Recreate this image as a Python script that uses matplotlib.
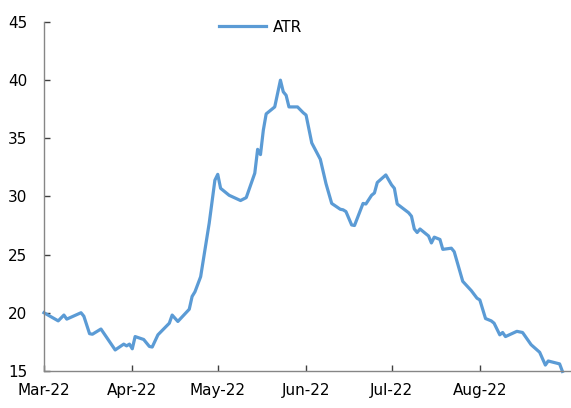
import pandas as pd
import numpy as np
import matplotlib.pyplot as plt
import matplotlib.dates as mdates

plt.rcParams['font.family'] = ['DejaVu Sans']

# ATR readings (date, value)
dates = ['2022-03-01', '2022-03-06', '2022-03-08', '2022-03-09', '2022-03-14', '2022-03-15',
         '2022-03-17', '2022-03-18', '2022-03-21', '2022-03-26', '2022-03-29', '2022-03-30',
         '2022-03-31', '2022-04-01', '2022-04-02', '2022-04-05', '2022-04-07', '2022-04-08',
         '2022-04-10', '2022-04-14', '2022-04-15', '2022-04-17', '2022-04-21', '2022-04-22',
         '2022-04-23', '2022-04-25', '2022-04-28', '2022-04-30', '2022-05-01', '2022-05-02',
         '2022-05-05', '2022-05-09', '2022-05-11', '2022-05-14', '2022-05-15', '2022-05-16',
         '2022-05-17', '2022-05-18', '2022-05-21', '2022-05-23', '2022-05-24', '2022-05-25',
         '2022-05-26', '2022-05-29', '2022-05-31', '2022-06-01', '2022-06-03', '2022-06-06',
         '2022-06-08', '2022-06-10', '2022-06-13', '2022-06-14', '2022-06-15', '2022-06-17',
         '2022-06-18', '2022-06-21', '2022-06-22', '2022-06-24', '2022-06-25', '2022-06-26',
         '2022-06-29', '2022-07-01', '2022-07-02', '2022-07-03', '2022-07-07', '2022-07-08',
         '2022-07-09', '2022-07-10', '2022-07-11', '2022-07-14', '2022-07-15', '2022-07-16',
         '2022-07-18', '2022-07-19', '2022-07-22', '2022-07-23', '2022-07-26', '2022-07-29',
         '2022-07-31', '2022-08-01', '2022-08-03', '2022-08-05', '2022-08-06', '2022-08-08',
         '2022-08-09', '2022-08-10', '2022-08-14', '2022-08-16', '2022-08-19', '2022-08-22',
         '2022-08-24', '2022-08-25', '2022-08-29', '2022-08-30']
atr = [20.0, 19.3, 19.8, 19.45, 20.0, 19.7,
       18.2, 18.15, 18.6, 16.8, 17.3, 17.15,
       17.3, 16.9, 17.95, 17.7, 17.1, 17.05,
       18.1, 19.1, 19.8, 19.25, 20.3, 21.4,
       21.8, 23.1, 27.7, 31.4, 31.9, 30.7,
       30.1, 29.65, 29.9, 32.0, 34.05, 33.6,
       35.7, 37.1, 37.7, 40.0, 39.0, 38.7,
       37.7, 37.7, 37.2, 37.0, 34.6, 33.2,
       31.1, 29.4, 28.9, 28.85, 28.7, 27.55,
       27.5, 29.4, 29.35, 30.1, 30.3, 31.2,
       31.85, 31.0, 30.7, 29.35, 28.6, 28.3,
       27.2, 26.9, 27.2, 26.6, 26.0, 26.5,
       26.3, 25.45, 25.55, 25.25, 22.7, 21.9,
       21.25, 21.1, 19.5, 19.3, 19.1, 18.1,
       18.3, 17.95, 18.4, 18.3, 17.25, 16.6,
       15.5, 15.85, 15.6, 14.95]

month_ticks = ['2022-03-01', '2022-04-01', '2022-05-01', '2022-06-01', '2022-07-01', '2022-08-01']

x = pd.to_datetime(dates)

fig = plt.figure(figsize=(5.71, 4.08), dpi=100)
ax = fig.add_axes([0.077, 0.091, 0.923, 0.855])

ax.plot(x, atr, color='#5B9BD5', lw=2.3, label='ATR', clip_on=False, solid_joinstyle='round')

ax.set_ylim(15, 45)
ax.set_yticks(np.arange(15, 46, 5))
ax.set_xlim(pd.Timestamp('2022-03-01'), pd.Timestamp('2022-09-02'))
ax.set_xticks(pd.to_datetime(month_ticks))
ax.xaxis.set_major_formatter(mdates.DateFormatter('%b-%y'))

for s in ['top', 'right']:
    ax.spines[s].set_visible(False)
for s in ['left', 'bottom']:
    ax.spines[s].set_color('#868686')
    ax.spines[s].set_linewidth(1.0)

ax.tick_params(axis='both', direction='in', length=4, width=1, color='#404040',
               labelsize=11, labelcolor='black')
ax.tick_params(axis='x', pad=9)
ax.tick_params(axis='y', pad=12)

fig.legend(loc='center left', bbox_to_anchor=(219 / 571, 1 - 27 / 408), frameon=False,
           fontsize=11, handlelength=3.1, handletextpad=0.4, borderpad=0, borderaxespad=0)

fig.savefig('out.png', dpi=100)
